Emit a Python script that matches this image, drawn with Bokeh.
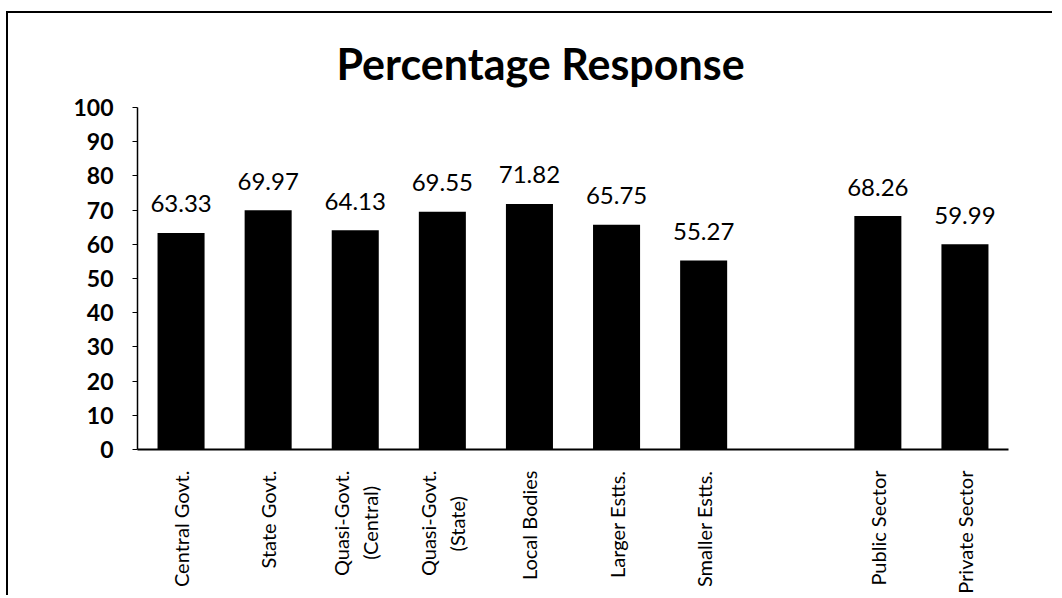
import math
from bokeh.plotting import figure
from bokeh.models import ColumnDataSource, FactorRange, Range1d, FixedTicker
from bokeh.core.properties import value
from bokeh.embed import file_html
from bokeh.resources import INLINE

# ---- data ----
categories = ["Central Govt.", "State Govt.", "Quasi-Govt.\n(Central)   ", "Quasi-Govt.\n(State)     ",
              "Local Bodies", "Larger Estts.", "Smaller Estts.", "Public Sector", "Private Sector"]
values = [63.33, 69.97, 64.13, 69.55, 71.82, 65.75, 55.27, 68.26, 59.99]
value_labels = ["63.33", "69.97", "64.13", "69.55", "71.82", "65.75", "55.27", "68.26", "59.99"]
y_ticks = [0, 10, 20, 30, 40, 50, 60, 70, 80, 90, 100]
title_text = "Percentage Response"

# empty slot between establishment groups and sectors
gap_factor = " "
x_factors = categories[:7] + [gap_factor] + categories[7:]

source = ColumnDataSource(dict(cat=categories, val=values, lab=value_labels))

p = figure(width=1046, height=584, x_range=FactorRange(*x_factors), y_range=Range1d(0, 100),
           output_backend="svg", toolbar_location=None, title=title_text,
           min_border_left=129, min_border_right=46, min_border_top=94, min_border_bottom=148)
p.outline_line_color = None
p.grid.visible = False
p.background_fill_color = "white"
p.border_fill_color = "white"
p.styles = {"border-top": "2px solid black", "border-left": "2px solid black",
            "margin-left": "6px", "margin-top": "11px"}

p.title.text_font = "Lato"
p.title.text_font_style = "bold"
p.title.text_font_size = "43px"
p.title.text_color = "black"
p.title.align = "left"
p.title.offset = 199
p.title.standoff = 37

p.vbar(x="cat", top="val", width=0.54, source=source, fill_color="black", line_color=None)

p.text(x="cat", y="val", text="lab", source=source, text_align="center",
       text_baseline="alphabetic", y_offset=-29, text_font=value("Lato"),
       text_font_size="24px", text_color="black")

# y axis
p.yaxis.ticker = FixedTicker(ticks=y_ticks)
p.yaxis.minor_tick_line_color = None
p.yaxis.major_tick_out = 5
p.yaxis.major_tick_in = 0
p.yaxis.major_tick_line_color = "black"
p.yaxis.axis_line_color = "black"
p.yaxis.axis_line_width = 1.5
p.yaxis.major_label_standoff = 19
p.yaxis.major_label_text_font = "Lato"
p.yaxis.major_label_text_font_style = "bold"
p.yaxis.major_label_text_font_size = "23px"
p.yaxis.major_label_text_color = "black"

# x axis
p.xaxis.major_tick_line_color = None
p.xaxis.minor_tick_line_color = None
p.xaxis.axis_line_color = "black"
p.xaxis.axis_line_width = 2
p.xaxis.major_label_orientation = math.pi / 2
p.xaxis.major_label_standoff = 15
p.xaxis.major_label_text_font = "Lato"
p.xaxis.major_label_text_font_size = "20px"
p.xaxis.major_label_text_color = "black"

open("out.html", "w").write(file_html(p, INLINE))
